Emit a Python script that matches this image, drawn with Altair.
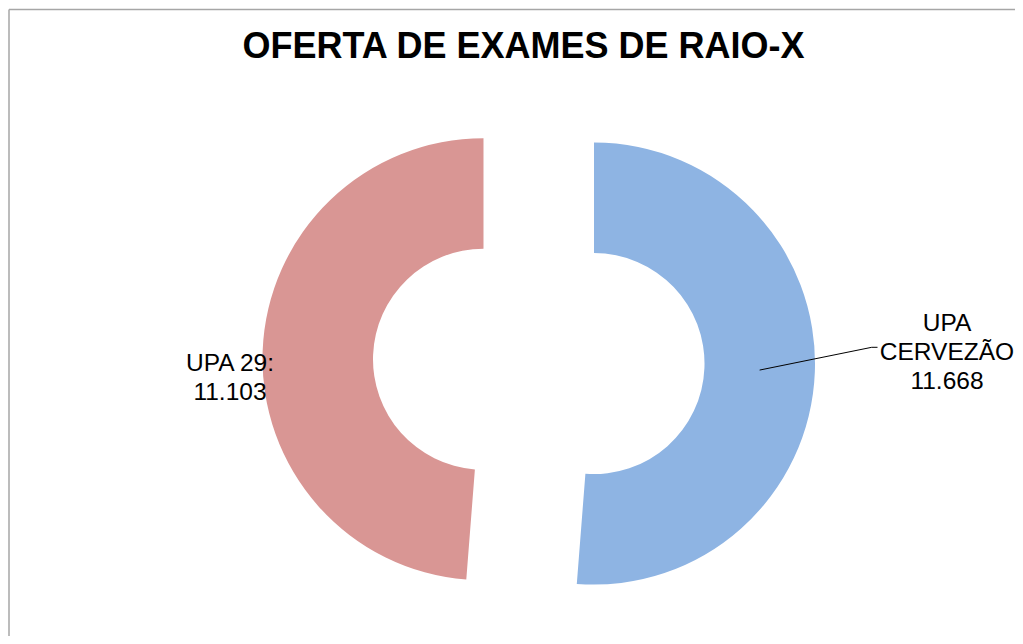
import altair as alt
import pandas as pd

# ---- data ----
categories = ["UPA CERVEZÃO", "UPA 29"]
values = [11668, 11103]
title_text = "OFERTA DE EXAMES DE RAIO-X"

# ---- style / layout ----
colors = {"UPA CERVEZÃO": "#8EB4E3", "UPA 29": "#D99694"}
label_names = {"UPA CERVEZÃO": "UPA\nCERVEZÃO", "UPA 29": "UPA 29:"}
label_pos = {"UPA CERVEZÃO": (939, 322.7), "UPA 29": (222, 362.7)}
leader_end = {"UPA CERVEZÃO": (863.7, 339.3, 869.5)}
W, H = 1007, 628
CX, CY = 530.75, 353.45
EXPLODE = 55.3
R_OUT, R_IN = 221, 110.5
FONT = "Liberation Sans"

df = pd.DataFrame({
    "category": categories,
    "value": values,
    "order": list(range(len(categories))),
    "lname": [label_names[c] for c in categories],
    "lx": [label_pos[c][0] for c in categories],
    "ly": [label_pos[c][1] for c in categories],
    "ex": [leader_end.get(c, (0, 0, 0))[0] for c in categories],
    "ey": [leader_end.get(c, (0, 0, 0))[1] for c in categories],
    "ex2": [leader_end.get(c, (0, 0, 0))[2] for c in categories],
})

base = (
    alt.Chart(df)
    .transform_joinaggregate(total="sum(value)")
    .transform_window(cum="sum(value)", sort=[alt.SortField("order")])
    .transform_calculate(
        f0="(datum.cum - datum.value) / datum.total",
        f1="datum.cum / datum.total",
    )
    .transform_calculate(mid="PI * (datum.f0 + datum.f1)")
    .transform_calculate(
        cx=f"{CX} + {EXPLODE} * sin(datum.mid)",
        cy=f"{CY} - {EXPLODE} * cos(datum.mid)",
    )
    .transform_calculate(
        sx=f"datum.cx + {(R_OUT + R_IN) / 2} * sin(datum.mid)",
        sy=f"datum.cy - {(R_OUT + R_IN) / 2} * cos(datum.mid)",
        label="datum.lname + '\\n' + replace(format(datum.value, ','), ',', '.')",
    )
)

arcs = base.mark_arc(radius=R_OUT, radius2=R_IN).encode(
    theta=alt.Theta("f0:Q", scale=alt.Scale(domain=[0, 1], range=[0, 6.283185307179586])),
    theta2="f1:Q",
    x=alt.X("cx:Q", scale=None),
    y=alt.Y("cy:Q", scale=None),
    color=alt.Color(
        "category:N",
        scale=alt.Scale(domain=categories, range=[colors[c] for c in categories]),
        legend=None,
    ),
)

labels = base.mark_text(
    font=FONT, fontSize=24.5, lineHeight=29, lineBreak="\n",
    align="center", baseline="alphabetic", color="#000000",
).encode(
    x=alt.X("lx:Q", scale=None),
    y=alt.Y("ly:Q", scale=None),
    text="label:N",
)

leader_src = base.transform_filter(alt.datum.ex > 0)
leader1 = leader_src.mark_rule(color="#000000", strokeWidth=1).encode(
    x=alt.X("sx:Q", scale=None), y=alt.Y("sy:Q", scale=None),
    x2="ex:Q", y2="ey:Q",
)
leader2 = leader_src.mark_rule(color="#000000", strokeWidth=1).encode(
    x=alt.X("ex:Q", scale=None), y=alt.Y("ey:Q", scale=None),
    x2="ex2:Q", y2="ey:Q",
)

title = alt.Chart(pd.DataFrame({"t": [title_text]})).mark_text(
    font=FONT, fontSize=36, fontWeight="bold", align="center", baseline="alphabetic",
    color="#000000",
).encode(x=alt.value(515.5), y=alt.value(49.7), text="t:N")

border_left = alt.Chart(pd.DataFrame({"a": [0]})).mark_rule(color="#A6A6A6", strokeWidth=1.5).encode(
    x=alt.value(1), y=alt.value(1.5), y2=alt.value(H)
)
border_top = alt.Chart(pd.DataFrame({"a": [0]})).mark_rule(color="#A6A6A6", strokeWidth=1.5).encode(
    x=alt.value(1), x2=alt.value(W), y=alt.value(1.5)
)

chart = (
    alt.layer(border_left, border_top, arcs, leader1, leader2, labels, title)
    .properties(width=W, height=H, autosize=alt.AutoSizeParams(type="none"), padding=0, background="white")
    .configure_view(stroke=None)
)

chart.save("out.html", embed_options={"renderer": "svg", "actions": False})
